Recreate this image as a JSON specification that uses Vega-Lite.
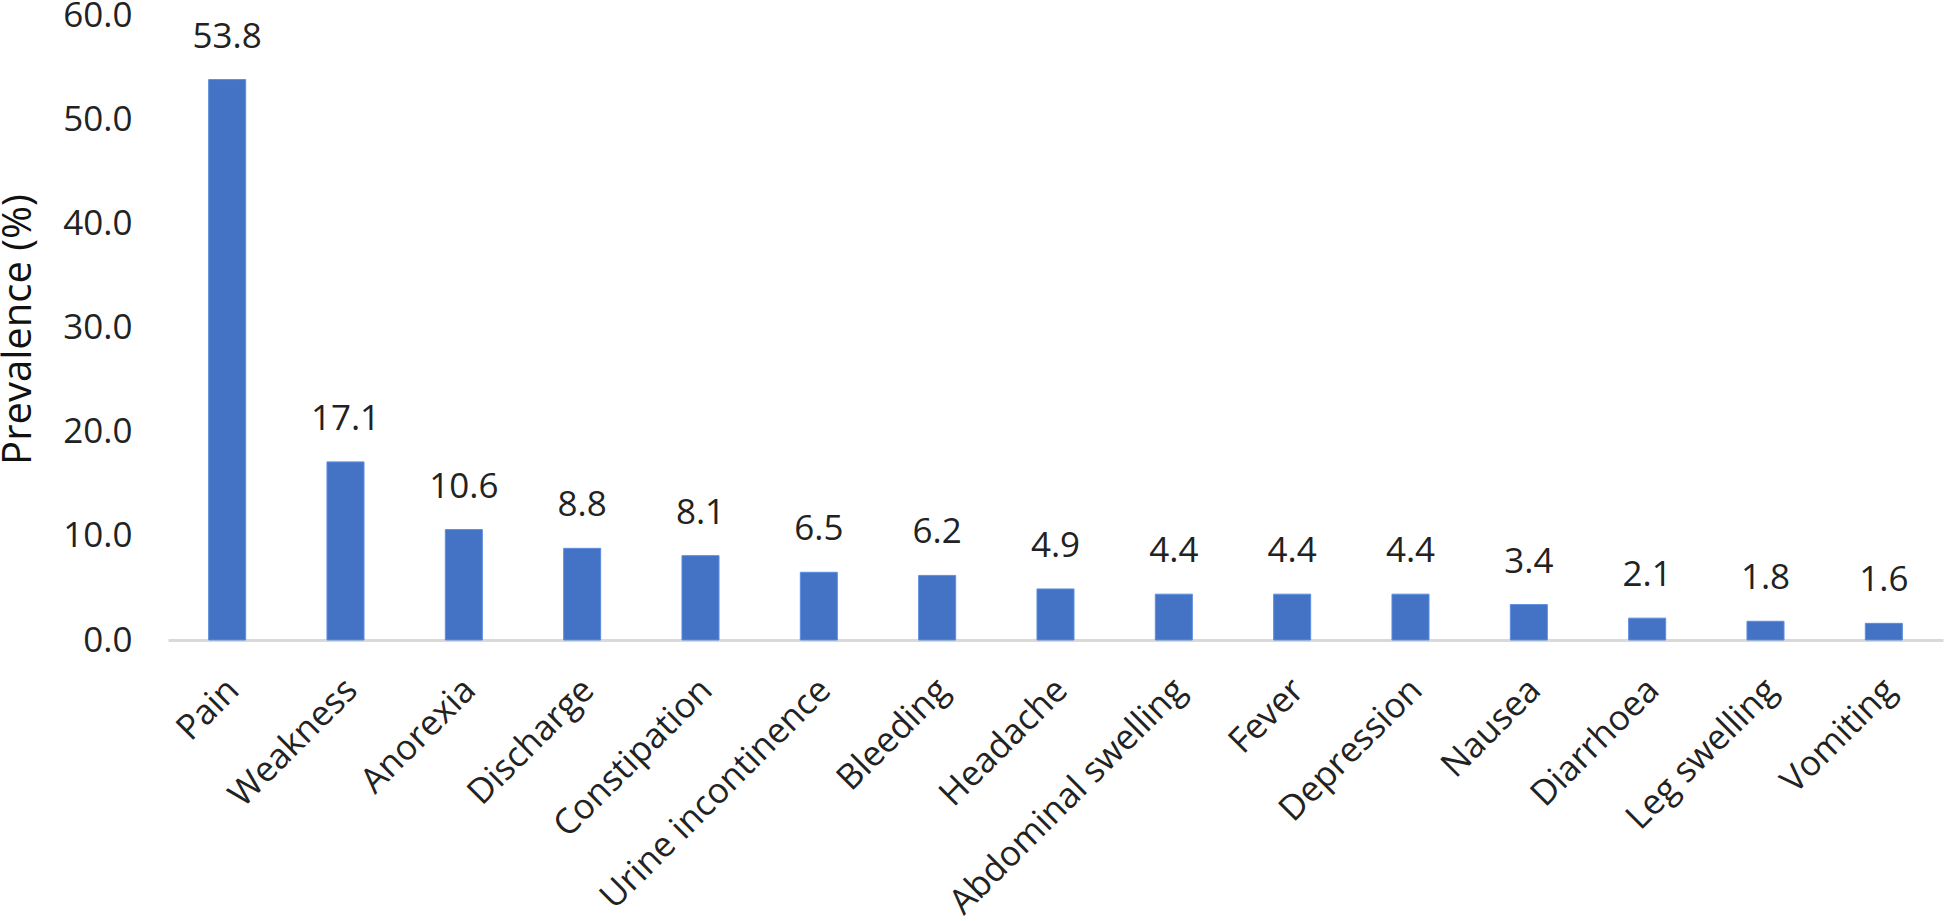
{
  "$schema": "https://vega.github.io/schema/vega-lite/v6.json",
  "autosize": "none",
  "padding": {"left": 168, "top": 15, "right": 1, "bottom": 281},
  "width": 1775,
  "height": 625,
  "background": "white",
  "config": {"view": {"stroke": null}, "font": "Open Sans"},
  "data": {
    "values": [
      {"symptom": "Pain", "prevalence": 53.8},
      {"symptom": "Weakness", "prevalence": 17.1},
      {"symptom": "Anorexia", "prevalence": 10.6},
      {"symptom": "Discharge", "prevalence": 8.8},
      {"symptom": "Constipation", "prevalence": 8.1},
      {"symptom": "Urine incontinence", "prevalence": 6.5},
      {"symptom": "Bleeding", "prevalence": 6.2},
      {"symptom": "Headache", "prevalence": 4.9},
      {"symptom": "Abdominal swelling", "prevalence": 4.4},
      {"symptom": "Fever", "prevalence": 4.4},
      {"symptom": "Depression", "prevalence": 4.4},
      {"symptom": "Nausea", "prevalence": 3.4},
      {"symptom": "Diarrhoea", "prevalence": 2.1},
      {"symptom": "Leg swelling", "prevalence": 1.8},
      {"symptom": "Vomiting", "prevalence": 1.6}
    ]
  },
  "encoding": {
    "x": {
      "field": "symptom",
      "type": "nominal",
      "sort": null,
      "scale": {"paddingInner": 0.687, "paddingOuter": 0.3435},
      "axis": {
        "title": null,
        "labelAngle": -45,
        "labelAlign": "right",
        "labelBaseline": "middle",
        "labelFontSize": 35,
        "labelColor": "#222222",
        "labelFont": "Open Sans",
        "labelPadding": 44,
        "labelOffset": 6,
        "ticks": false,
        "domainColor": "#d9d9d9",
        "domainWidth": 3,
        "labelOverlap": false,
        "labelLimit": 0
      }
    },
    "y": {
      "field": "prevalence",
      "type": "quantitative",
      "scale": {"domain": [0, 60], "nice": false},
      "axis": {
        "title": "Prevalence (%)",
        "values": [0, 10, 20, 30, 40, 50, 60],
        "format": ".1f",
        "grid": false,
        "domain": false,
        "ticks": false,
        "labelPadding": 36,
        "labelFontSize": 35,
        "labelColor": "#222222",
        "labelFont": "Open Sans",
        "titleFont": "Open Sans",
        "titleFontSize": 40,
        "titleFontWeight": "normal",
        "titleColor": "#111111",
        "titleX": -150,
        "titleY": 314,
        "titleAngle": -90,
        "titleAlign": "center",
        "titleBaseline": "middle"
      }
    }
  },
  "layer": [
    {
      "mark": {"type": "bar", "color": "#4472C4", "stroke": "#5B8FE0", "strokeWidth": 1}
    },
    {
      "mark": {"type": "text", "baseline": "middle", "dy": -43, "fontSize": 35, "color": "#222222", "font": "Open Sans"},
      "encoding": {
        "text": {"field": "prevalence", "type": "quantitative", "format": ".1f"}
      }
    }
  ]
}
